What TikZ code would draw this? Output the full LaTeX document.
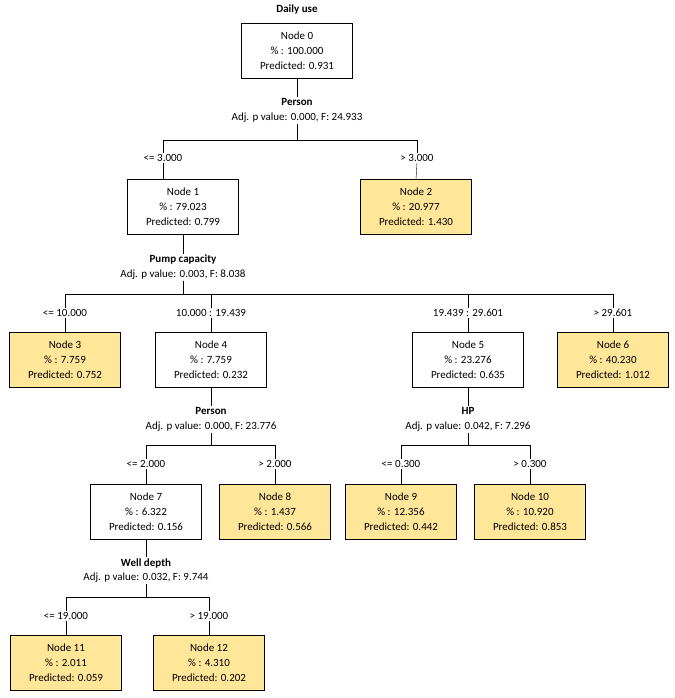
\documentclass[tikz,border=0pt]{standalone}
\usepackage{fontspec}
\setmainfont{Carlito}
\usetikzlibrary{positioning}
\definecolor{leafyellow}{HTML}{FFE699}
\tikzset{
  box/.style={rectangle, draw, thin, minimum width=111pt, minimum height=55pt,
    align=center, inner sep=1pt, font=\fontsize{11}{15}\selectfont},
  leaf/.style={box, fill=leafyellow},
  lbl/.style={inner sep=1pt, font=\fontsize{11}{13}\selectfont},
  ttl/.style={inner sep=1pt, font=\fontsize{11}{13}\selectfont\bfseries},
}
\begin{document}
\begin{tikzpicture}[x=1pt, y=-1pt, thin]
\useasboundingbox (0,0) rectangle (674,698);

  % root
  \node[ttl] (d0) at (297,10) {Daily use};
  \node[box] (n0) at (297,51) {Node 0\\\% : 100.000\\Predicted: 0.931};
  \node[ttl] (t0) at (297,102) {Person};
  \node[lbl] (a0) at (297,118) {Adj. p value: 0.000, F: 24.933};
  \coordinate (h0) at (297,140);
  \draw (n0.south) -- (t0.north);
  \draw (a0.south) -- (h0);
  \draw (163,140) -- (417,140);

  % level 1
  \node[lbl] (l1) at (163,158) {<= 3.000};
  \node[lbl] (l2) at (417,158) {> 3.000};
  \node[box] (n1) at (183,207) {Node 1\\\% : 79.023\\Predicted: 0.799};
  \node[leaf] (n2) at (416,207) {Node 2\\\% : 20.977\\Predicted: 1.430};
  \draw (l1.south) -- (l1.south |- n1.north);
  \draw (l2.south) -- (n2.north);
  \draw (l1.north) -- (l1.north |- h0);
  \draw (l2.north) -- (l2.north |- h0);

  % split of node 1
  \node[ttl] (t1) at (183,260) {Pump capacity};
  \node[lbl] (a1) at (183,275) {Adj. p value: 0.003, F: 8.038};
  \coordinate (h1) at (183,294);
  \draw (n1.south) -- (t1.north);
  \draw (a1.south) -- (h1);
  \draw (65,294) -- (613,294);

  \node[lbl] (l3) at (65,313) {<= 10.000};
  \node[lbl] (l4) at (211,313) {10.000 : 19.439};
  \node[lbl] (l5) at (468,313) {19.439 : 29.601};
  \node[lbl] (l6) at (613,313) {> 29.601};
  \node[leaf] (n3) at (65,360) {Node 3\\\% : 7.759\\Predicted: 0.752};
  \node[box] (n4) at (211,360) {Node 4\\\% : 7.759\\Predicted: 0.232};
  \node[box] (n5) at (468,360) {Node 5\\\% : 23.276\\Predicted: 0.635};
  \node[leaf] (n6) at (613,360) {Node 6\\\% : 40.230\\Predicted: 1.012};
  \foreach \i in {3,4,5,6} {
    \draw (l\i.north) -- (l\i.north |- h1);
    \draw (l\i.south) -- (n\i.north);
  }

  % split of node 4
  \node[ttl] (t4) at (211,411) {Person};
  \node[lbl] (a4) at (211,427) {Adj. p value: 0.000, F: 23.776};
  \coordinate (h4) at (211,445);
  \draw (n4.south) -- (t4.north);
  \draw (a4.south) -- (h4);
  \draw (146,445) -- (275,445);

  % split of node 5
  \node[ttl] (t5) at (468,411) {HP};
  \node[lbl] (a5) at (468,427) {Adj. p value: 0.042, F: 7.296};
  \coordinate (h5) at (468,445);
  \draw (n5.south) -- (t5.north);
  \draw (a5.south) -- (h5);
  \draw (401,445) -- (530,445);

  \node[lbl] (l7) at (146,464) {<= 2.000};
  \node[lbl] (l8) at (275,464) {> 2.000};
  \node[lbl] (l9) at (401,464) {<= 0.300};
  \node[lbl] (l10) at (530,464) {> 0.300};
  \node[box] (n7) at (146,512) {Node 7\\\% : 6.322\\Predicted: 0.156};
  \node[leaf] (n8) at (275,512) {Node 8\\\% : 1.437\\Predicted: 0.566};
  \node[leaf] (n9) at (401,512) {Node 9\\\% : 12.356\\Predicted: 0.442};
  \node[leaf] (n10) at (530,512) {Node 10\\\% : 10.920\\Predicted: 0.853};
  \foreach \i in {7,8,9,10} {
    \draw (l\i.north) -- (l\i.north |- h4);
    \draw (l\i.south) -- (n\i.north);
  }

  % split of node 7
  \node[ttl] (t7) at (146,563) {Well depth};
  \node[lbl] (a7) at (146,578) {Adj. p value: 0.032, F: 9.744};
  \coordinate (h7) at (146,597);
  \draw (n7.south) -- (t7.north);
  \draw (a7.south) -- (h7);
  \draw (66,597) -- (209,597);

  \node[lbl] (l11) at (66,616) {<= 19.000};
  \node[lbl] (l12) at (209,616) {> 19.000};
  \node[leaf] (n11) at (66,663) {Node 11\\\% : 2.011\\Predicted: 0.059};
  \node[leaf] (n12) at (209,663) {Node 12\\\% : 4.310\\Predicted: 0.202};
  \foreach \i in {11,12} {
    \draw (l\i.north) -- (l\i.north |- h7);
    \draw (l\i.south) -- (n\i.north);
  }
\end{tikzpicture}
\end{document}
